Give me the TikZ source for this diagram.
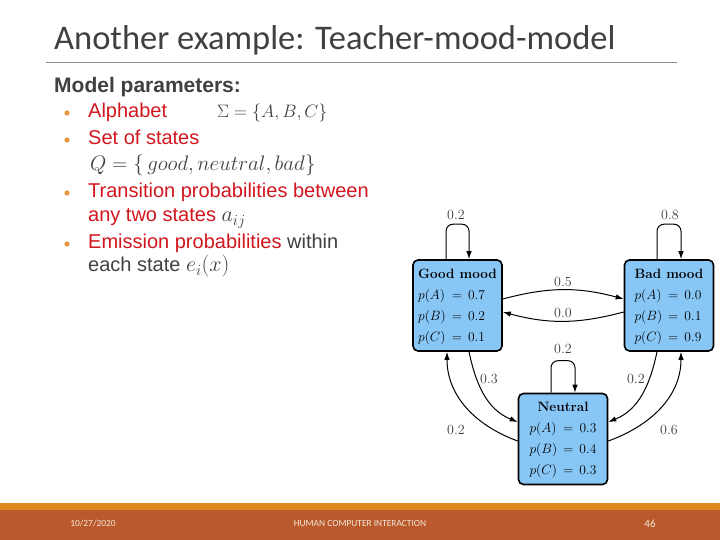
\RequirePackage{fix-cm}
\documentclass[tikz,border=0pt]{standalone}
\usepackage{fontspec}
\newfontfamily\titlefont{Carlito}
\newfontfamily\bodyfont{Liberation Sans}
\usetikzlibrary{arrows.meta}
\definecolor{titlegray}{RGB}{64,64,64}
\definecolor{rulegray}{RGB}{140,140,140}
\definecolor{redtext}{RGB}{210,22,30}
\definecolor{bulletorange}{RGB}{228,150,60}
\definecolor{stateblue}{RGB}{135,198,245}
\definecolor{stripeorange}{RGB}{224,134,30}
\definecolor{footbrown}{RGB}{185,89,44}
\definecolor{foottext}{RGB}{245,232,218}
\definecolor{lblgray}{RGB}{60,60,60}
\tikzset{
  body/.style={anchor=base west,inner sep=0pt,font=\bodyfont\fontsize{20}{24}\selectfont},
  state/.style={draw=black,line width=1.6pt,fill=stateblue,rounded corners=5pt,
    minimum width=89pt,minimum height=91pt,inner sep=0pt,
    font=\fontsize{13.5}{21}\selectfont},
  edge/.style={draw=black,line width=1pt,-{Latex[length=8pt,width=5.5pt]}},
  lbl/.style={inner sep=0pt,text=lblgray,font=\fontsize{14}{16}\selectfont},
  foot/.style={inner sep=0pt,text=foottext,font=\titlefont\fontsize{9.4}{11}\selectfont},
  bul/.style={fill=bulletorange}
}
\newcommand{\stbox}[4]{\begin{tabular}{@{}l@{\hspace{6pt}}c@{\hspace{6pt}}l@{}}
  \multicolumn{3}{@{}c@{}}{\textbf{#1}}\\
  $p(A)$ & $=$ & $#2$\\
  $p(B)$ & $=$ & $#3$\\
  $p(C)$ & $=$ & $#4$\end{tabular}}
\begin{document}
\begin{tikzpicture}[x=1pt,y=1pt]
\useasboundingbox (0,0) rectangle (720,540);
% title
\node[anchor=base west,inner sep=0pt,text=titlegray,font=\titlefont\fontsize{34.5}{38}\selectfont] (title) at (54,490.5) {Another example: Teacher-mood-model};
\draw[rulegray,line width=0.8pt] (46,477.5) -- (677,477.5);
% bullet text
\node[body,text=titlegray,font=\bodyfont\bfseries\fontsize{21}{24}\selectfont] (head) at (54,447) {Model parameters:};
\fill[bul] (67,427) circle (2.6);
\node[body,text=redtext] (b1) at (88,422) {Alphabet};
\node[body,text=titlegray,font=\fontsize{18}{22}\selectfont] (sig) at (217,422) {$\Sigma=\{A,B,C\}$};
\fill[bul] (67,400) circle (2.6);
\node[body,text=redtext] (b2) at (88,395) {Set of states};
\node[body,text=titlegray,font=\fontsize{21}{24}\selectfont] (q) at (90,369) {$Q=\{\,good,neutral,bad\}$};
\fill[bul] (67,347) circle (2.6);
\node[body,text=redtext] (b3) at (88,342) {Transition probabilities between};
\node[body,text=redtext] (b3b) at (88,318) {any two states \textcolor{titlegray}{\fontsize{22}{24}\selectfont$a_{ij}$}};
\fill[bul] (67,296) circle (2.6);
\node[body,text=redtext] (b4) at (88,291) {Emission probabilities \textcolor{titlegray}{within}};
\node[body,text=titlegray] (b4b) at (88,268) {each state {\fontsize{22}{24}\selectfont$e_i(x)$}};
% states
\node[state] (good) at (457.5,234.5) {\stbox{Good mood}{0.7}{0.2}{0.1}};
\node[state] (bad) at (669,234.5) {\stbox{Bad mood}{0.0}{0.1}{0.9}};
\node[state] (neu) at (563,101) {\stbox{Neutral}{0.3}{0.4}{0.3}};
% self loops
\draw[edge,rounded corners=7pt] ([xshift=-11.5pt]good.north) -- ++(0,35) -- ++(23,0) -- ([xshift=11.5pt]good.north);
\draw[edge,rounded corners=7pt] ([xshift=-12pt]bad.north) -- ++(0,35) -- ++(24,0) -- ([xshift=12pt]bad.north);
\draw[edge,rounded corners=7pt] ([xshift=-12pt]neu.north) -- ++(0,32) -- ++(24,0) -- ([xshift=12pt]neu.north);
\node[lbl] (lgg) at (456,325) {0.2};
\node[lbl] (lbb) at (670,325) {0.8};
\node[lbl] (lnn) at (563,191) {0.2};
% good <-> bad
\draw[edge] ([yshift=6.5pt]good.east) to[out=15,in=165] ([yshift=6.5pt]bad.west);
\draw[edge] ([yshift=-6.5pt]bad.west) to[out=195,in=-15] ([yshift=-6.5pt]good.east);
\node[lbl] (lgb) at (563,258) {0.5};
\node[lbl] (lbg) at (563,227) {0.0};
% good <-> neutral
\draw[edge] ([xshift=11.5pt]good.south) to[out=-78,in=158] ([yshift=17pt]neu.west);
\draw[edge] ([yshift=-2pt]neu.west) to[out=160,in=-90] ([xshift=-10.5pt]good.south);
\node[lbl] (lgn) at (489,161) {0.3};
\node[lbl] (lng) at (456,110) {0.2};
% bad <-> neutral
\draw[edge] ([xshift=-12pt]bad.south) to[out=-102,in=22] ([yshift=17pt]neu.east);
\draw[edge] ([yshift=-2pt]neu.east) to[out=20,in=-90] ([xshift=12pt]bad.south);
\node[lbl] (lbn) at (636,161) {0.2};
\node[lbl] (lnb) at (669,110) {0.6};
% footer
\fill[stripeorange] (0,30) rectangle (720,37);
\fill[footbrown] (0,0) rectangle (720,30);
\node[foot] (date) at (93,17) {10/27/2020};
\node[foot] (course) at (360,17) {HUMAN COMPUTER INTERACTION};
\node[foot,font=\titlefont\fontsize{11}{12}\selectfont] (page) at (650,16) {46};
\end{tikzpicture}
\end{document}
